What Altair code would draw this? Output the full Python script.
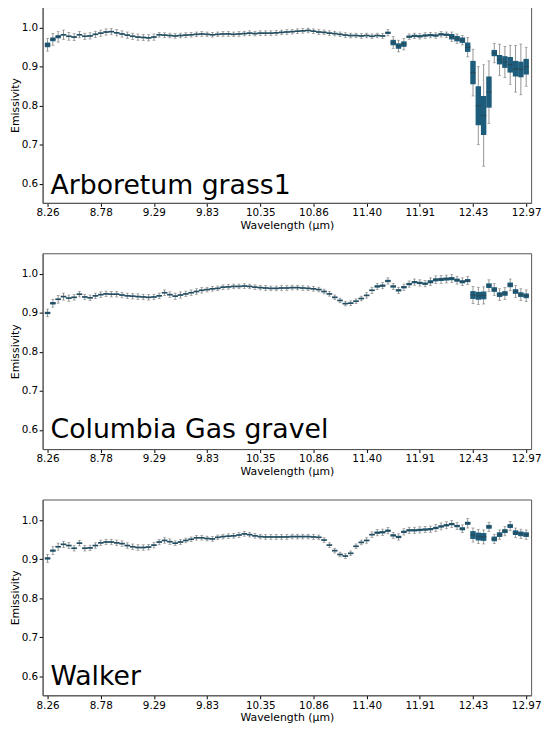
import altair as alt
import pandas as pd

TICK_LABELS = ["8.26", "8.78", "9.29", "9.83", "10.35", "10.86", "11.40", "11.91", "12.43", "12.97"]
TICK_POS = [0, 10, 20, 30, 40, 50, 60, 70, 80, 90]
PANEL_NAMES = ["Arboretum grass1", "Columbia Gas gravel", "Walker"]

# ---- Arboretum grass1 ----
arb_med = [0.956, 0.970, 0.977, 0.982, 0.978, 0.976, 0.982, 0.978, 0.979, 0.983,
           0.986, 0.989, 0.990, 0.987, 0.984, 0.981, 0.978, 0.976, 0.975, 0.974,
           0.976, 0.982, 0.981, 0.980, 0.979, 0.980, 0.981, 0.982, 0.983, 0.984,
           0.983, 0.982, 0.983, 0.984, 0.984, 0.983, 0.984, 0.985, 0.986, 0.985,
           0.986, 0.986, 0.986, 0.987, 0.988, 0.989, 0.990, 0.991, 0.992, 0.993,
           0.991, 0.989, 0.988, 0.986, 0.985, 0.983, 0.981, 0.980, 0.980, 0.979,
           0.980, 0.978, 0.980, 0.979, 0.987, 0.962, 0.953, 0.958, 0.977, 0.979,
           0.978, 0.980, 0.981, 0.980, 0.983, 0.982, 0.977, 0.972, 0.968, 0.950,
           0.885, 0.800, 0.775, 0.835, 0.935, 0.918, 0.912, 0.905, 0.895, 0.893,
           0.900]
arb_box = [0.006, 0.005, 0.004, 0.002, 0.002, 0.002, 0.002, 0.002, 0.002, 0.002,
           0.002, 0.002, 0.002, 0.002, 0.002, 0.002, 0.002, 0.002, 0.002, 0.002,
           0.002, 0.002, 0.002, 0.002, 0.002, 0.002, 0.002, 0.002, 0.002, 0.002,
           0.002, 0.002, 0.002, 0.002, 0.002, 0.002, 0.002, 0.002, 0.002, 0.002,
           0.002, 0.002, 0.002, 0.002, 0.002, 0.002, 0.002, 0.002, 0.002, 0.002,
           0.002, 0.002, 0.002, 0.002, 0.002, 0.002, 0.002, 0.002, 0.002, 0.002,
           0.002, 0.002, 0.002, 0.002, 0.003, 0.007, 0.007, 0.007, 0.003, 0.003,
           0.003, 0.003, 0.003, 0.003, 0.003, 0.003, 0.007, 0.007, 0.007, 0.012,
           0.030, 0.050, 0.050, 0.040, 0.008, 0.012, 0.015, 0.020, 0.020, 0.020,
           0.020]
arb_wsk = [0.016, 0.015, 0.014, 0.012, 0.010, 0.009, 0.008, 0.008, 0.008, 0.008,
           0.008, 0.008, 0.008, 0.008, 0.008, 0.008, 0.008, 0.008, 0.008, 0.008,
           0.008, 0.006, 0.006, 0.006, 0.006, 0.006, 0.006, 0.006, 0.006, 0.006,
           0.006, 0.006, 0.006, 0.006, 0.006, 0.006, 0.006, 0.006, 0.006, 0.006,
           0.006, 0.006, 0.006, 0.006, 0.006, 0.006, 0.006, 0.006, 0.006, 0.006,
           0.006, 0.006, 0.006, 0.006, 0.006, 0.006, 0.006, 0.006, 0.006, 0.006,
           0.006, 0.006, 0.006, 0.006, 0.008, 0.015, 0.015, 0.015, 0.007, 0.007,
           0.007, 0.007, 0.007, 0.007, 0.007, 0.007, 0.012, 0.012, 0.012, 0.025,
           0.060, 0.100, 0.130, 0.080, 0.025, 0.040, 0.040, 0.050, 0.060, 0.065,
           0.050]

# ---- Columbia Gas gravel ----
col_med = [0.900, 0.925, 0.935, 0.942, 0.938, 0.940, 0.948, 0.941, 0.939, 0.944,
           0.947, 0.949, 0.948, 0.948, 0.946, 0.944, 0.943, 0.942, 0.941, 0.940,
           0.941, 0.944, 0.952, 0.947, 0.943, 0.946, 0.949, 0.952, 0.955, 0.958,
           0.960, 0.962, 0.963, 0.966, 0.967, 0.968, 0.968, 0.969, 0.968, 0.966,
           0.965, 0.964, 0.963, 0.963, 0.964, 0.964, 0.965, 0.965, 0.964, 0.963,
           0.962, 0.960, 0.955, 0.949, 0.940, 0.932, 0.924, 0.925, 0.930, 0.937,
           0.945, 0.958, 0.968, 0.970, 0.982, 0.968, 0.958, 0.966, 0.974, 0.979,
           0.977, 0.975, 0.980, 0.985, 0.986, 0.987, 0.988, 0.984, 0.980, 0.983,
           0.946, 0.944, 0.945, 0.970, 0.960, 0.947, 0.950, 0.972, 0.955, 0.947,
           0.944]
col_box = [0.003, 0.003, 0.002, 0.002, 0.002, 0.002, 0.002, 0.002, 0.002, 0.002,
           0.002, 0.002, 0.002, 0.002, 0.002, 0.002, 0.002, 0.002, 0.002, 0.002,
           0.002, 0.002, 0.002, 0.002, 0.002, 0.002, 0.002, 0.002, 0.002, 0.002,
           0.002, 0.002, 0.002, 0.002, 0.002, 0.002, 0.002, 0.002, 0.002, 0.002,
           0.002, 0.002, 0.002, 0.002, 0.002, 0.002, 0.002, 0.002, 0.002, 0.002,
           0.002, 0.002, 0.002, 0.002, 0.002, 0.002, 0.002, 0.002, 0.002, 0.002,
           0.002, 0.002, 0.003, 0.003, 0.003, 0.003, 0.003, 0.003, 0.003, 0.003,
           0.003, 0.003, 0.004, 0.004, 0.004, 0.004, 0.004, 0.004, 0.004, 0.004,
           0.010, 0.010, 0.010, 0.006, 0.006, 0.006, 0.006, 0.006, 0.006, 0.006,
           0.006]
col_wsk = [0.010, 0.010, 0.010, 0.009, 0.008, 0.007, 0.007, 0.007, 0.007, 0.007,
           0.007, 0.007, 0.007, 0.007, 0.007, 0.007, 0.007, 0.007, 0.007, 0.007,
           0.007, 0.007, 0.007, 0.007, 0.008, 0.008, 0.007, 0.007, 0.007, 0.007,
           0.006, 0.006, 0.006, 0.006, 0.006, 0.006, 0.006, 0.006, 0.006, 0.006,
           0.006, 0.006, 0.006, 0.006, 0.006, 0.006, 0.006, 0.006, 0.006, 0.006,
           0.006, 0.006, 0.006, 0.006, 0.006, 0.006, 0.006, 0.006, 0.006, 0.006,
           0.007, 0.008, 0.008, 0.008, 0.008, 0.008, 0.008, 0.008, 0.008, 0.008,
           0.008, 0.008, 0.010, 0.010, 0.010, 0.010, 0.010, 0.010, 0.010, 0.010,
           0.022, 0.022, 0.022, 0.015, 0.015, 0.015, 0.015, 0.015, 0.015, 0.015,
           0.015]

# ---- Walker ----
wal_med = [0.902, 0.922, 0.932, 0.938, 0.935, 0.928, 0.941, 0.928, 0.929, 0.935,
           0.942, 0.944, 0.944, 0.942, 0.940, 0.935, 0.932, 0.930, 0.930, 0.931,
           0.936, 0.944, 0.948, 0.945, 0.941, 0.944, 0.948, 0.951, 0.955, 0.955,
           0.953, 0.952, 0.956, 0.958, 0.959, 0.960, 0.962, 0.965, 0.963, 0.960,
           0.958, 0.957, 0.957, 0.957, 0.957, 0.957, 0.958, 0.958, 0.958, 0.958,
           0.957, 0.956, 0.949, 0.936, 0.922, 0.912, 0.908, 0.915, 0.933, 0.943,
           0.948, 0.963, 0.968, 0.969, 0.973, 0.961, 0.957, 0.970, 0.974, 0.974,
           0.975, 0.976, 0.977, 0.980, 0.984, 0.987, 0.990, 0.985, 0.978, 0.992,
           0.962, 0.958, 0.957, 0.983, 0.952, 0.963, 0.972, 0.985, 0.968, 0.965,
           0.963]
wal_box = [0.003, 0.003, 0.002, 0.002, 0.002, 0.002, 0.002, 0.002, 0.002, 0.002,
           0.002, 0.002, 0.002, 0.002, 0.002, 0.002, 0.002, 0.002, 0.002, 0.002,
           0.002, 0.002, 0.002, 0.002, 0.002, 0.002, 0.002, 0.002, 0.002, 0.002,
           0.002, 0.002, 0.002, 0.002, 0.002, 0.002, 0.002, 0.002, 0.002, 0.002,
           0.002, 0.002, 0.002, 0.002, 0.002, 0.002, 0.002, 0.002, 0.002, 0.002,
           0.002, 0.002, 0.002, 0.002, 0.002, 0.002, 0.002, 0.002, 0.002, 0.002,
           0.002, 0.002, 0.003, 0.003, 0.003, 0.003, 0.003, 0.003, 0.003, 0.003,
           0.003, 0.003, 0.003, 0.003, 0.003, 0.003, 0.003, 0.003, 0.004, 0.004,
           0.010, 0.010, 0.010, 0.005, 0.006, 0.006, 0.005, 0.005, 0.006, 0.006,
           0.006]
wal_wsk = [0.010, 0.010, 0.009, 0.008, 0.008, 0.007, 0.007, 0.007, 0.007, 0.007,
           0.007, 0.007, 0.007, 0.007, 0.007, 0.007, 0.007, 0.007, 0.007, 0.007,
           0.007, 0.007, 0.007, 0.007, 0.006, 0.006, 0.006, 0.006, 0.006, 0.006,
           0.006, 0.006, 0.006, 0.006, 0.006, 0.006, 0.006, 0.006, 0.006, 0.006,
           0.006, 0.006, 0.006, 0.006, 0.006, 0.006, 0.006, 0.006, 0.006, 0.006,
           0.006, 0.006, 0.006, 0.006, 0.006, 0.006, 0.006, 0.006, 0.006, 0.006,
           0.007, 0.007, 0.008, 0.008, 0.008, 0.008, 0.008, 0.008, 0.008, 0.008,
           0.008, 0.008, 0.008, 0.009, 0.009, 0.009, 0.009, 0.009, 0.010, 0.012,
           0.018, 0.018, 0.018, 0.012, 0.012, 0.012, 0.012, 0.012, 0.012, 0.012,
           0.012]

BOX_COLOR = "#1d5c7a"
MED_COLOR = "#2b4652"
WSK_COLOR = "#666666"

label_expr = "[" + ",".join("'%s'" % t for t in TICK_LABELS) + "][round(datum.value/10)]"


def panel(name, med, box, wsk, text_y):
    n = len(med)
    df = pd.DataFrame({
        "band": list(range(n)),
        "med": med,
        "q1": [m - b for m, b in zip(med, box)],
        "q3": [m + b for m, b in zip(med, box)],
        "lo": [m - w for m, w in zip(med, wsk)],
        "hi": [m + w for m, w in zip(med, wsk)],
    })
    x = alt.X("band:Q",
              scale=alt.Scale(domain=[0, n - 1], nice=False, zero=False),
              axis=alt.Axis(values=TICK_POS, labelExpr=label_expr,
                            title="Wavelength (µm)", grid=False, labelFlush=False))
    yscale = alt.Scale(domain=[0.551, 1.053], nice=False, zero=False)
    yaxis = alt.Axis(values=[0.6, 0.7, 0.8, 0.9, 1.0], format=".1f",
                     title="Emissivity", grid=False)
    base = alt.Chart(df)
    whisk = base.mark_rule(color=WSK_COLOR, strokeWidth=0.7).encode(
        x=x, y=alt.Y("lo:Q", scale=yscale, axis=yaxis), y2="hi:Q")
    caps_lo = base.mark_tick(color=WSK_COLOR, orient="horizontal", size=3, thickness=0.7).encode(
        x="band:Q", y="lo:Q")
    caps_hi = base.mark_tick(color=WSK_COLOR, orient="horizontal", size=3, thickness=0.7).encode(
        x="band:Q", y="hi:Q")
    boxes = base.mark_bar(color=BOX_COLOR, width=5.5).encode(
        x="band:Q", y="q1:Q", y2="q3:Q")
    meds = base.mark_tick(color=MED_COLOR, orient="horizontal", size=5.5, thickness=1.4).encode(
        x="band:Q", y="med:Q")
    txt = alt.Chart(pd.DataFrame({"name": [name]})).mark_text(
        align="left", baseline="alphabetic", fontSize=27, font="DejaVu Sans", color="black"
    ).encode(text="name:N", x=alt.value(8), y=alt.value(text_y))
    return alt.layer(whisk, caps_lo, caps_hi, boxes, meds, txt).properties(width=494, height=198)


p1 = panel(PANEL_NAMES[0], arb_med, arb_box, arb_wsk, 189)
p2 = panel(PANEL_NAMES[1], col_med, col_box, col_wsk, 187)
p3 = panel(PANEL_NAMES[2], wal_med, wal_box, wal_wsk, 188)

chart = alt.vconcat(p1, p2, p3, spacing=22).properties(
    padding={"left": 0, "top": -6, "right": 0, "bottom": 0}
).configure_view(stroke="#555555", strokeWidth=1).configure_axis(
    labelFont="DejaVu Sans", titleFont="DejaVu Sans", labelFontSize=10.5, titleFontSize=11,
    titleFontWeight="normal", labelColor="black", titleColor="black",
    tickColor="black", domainColor="#555555", tickSize=3.5, labelPadding=1.5, titlePadding=1
)

chart.save("out.html", embed_options={"renderer": "svg", "actions": False})
